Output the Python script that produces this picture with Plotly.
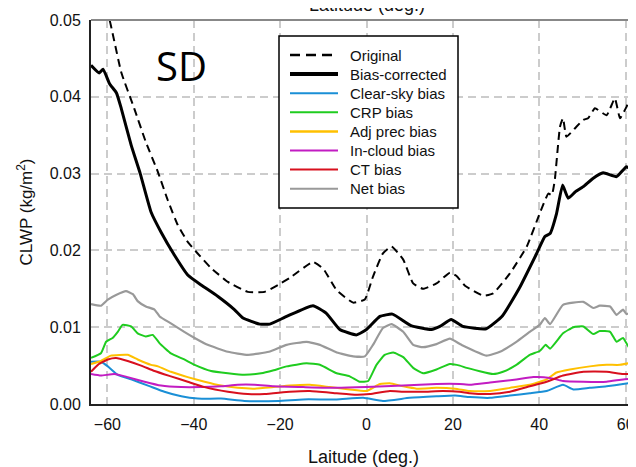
import plotly.graph_objects as go

# ---- data ----
orig_lat = [-60.5, -59.5, -56.8, -53.8, -51.1, -48.3, -46.0, -43.7, -41.4, -39.1, -36.0, -32.1, -27.5, -23.6,
            -20.5, -17.8, -12.4, -10.0, -6.9, -3.1, -0.4, 1.5, 3.8, 5.8, 8.5, 10.8, 13.1, 16.2, 19.3, 20.8,
            22.8, 27.0, 29.3, 33.2, 37.1, 40.1, 42.1, 42.9, 43.6, 44.8, 45.5, 46.3, 48.6, 50.2, 51.3, 52.9,
            55.6, 57.5, 58.7, 60.2, 62.4]
orig_val = [0.0515, 0.0500, 0.0432, 0.0385, 0.0341, 0.0302, 0.0265, 0.0233, 0.0211, 0.0196, 0.0177, 0.0159, 0.0146, 0.0146,
            0.0155, 0.0164, 0.0185, 0.0176, 0.0148, 0.0132, 0.0136, 0.0166, 0.0196, 0.0205, 0.0188, 0.0157, 0.0150, 0.0157, 0.0171, 0.0167,
            0.0154, 0.0141, 0.0144, 0.0170, 0.0205, 0.0248, 0.0274, 0.0272, 0.0292, 0.0361, 0.0372, 0.0348, 0.0361, 0.0370, 0.0372, 0.0385,
            0.0376, 0.0398, 0.0372, 0.0387, 0.0415]

corr_lat = [-63.8, -61.9, -61.0, -59.5, -57.9, -56.8, -54.5, -52.4, -49.9, -47.6, -44.5, -41.4, -38.3, -34.4, -30.6,
            -28.6, -24.7, -22.4, -18.5, -12.4, -9.3, -6.2, -2.3, 0.0, 3.1, 6.0, 10.3, 15.0, 17.0, 19.6, 22.3,
            27.7, 31.5, 35.4, 39.4, 41.3, 42.5, 44.0, 45.4, 46.7, 48.3, 50.2, 52.5, 54.8, 57.9, 60.2, 61.4, 62.4]
corr_val = [0.0441, 0.0431, 0.0436, 0.0417, 0.0405, 0.0385, 0.0337, 0.0300, 0.0250, 0.0224, 0.0194, 0.0168, 0.0155, 0.0140, 0.0123,
            0.0112, 0.0104, 0.0104, 0.0114, 0.0128, 0.0118, 0.0097, 0.0090, 0.0097, 0.0114, 0.0117, 0.0102, 0.0097, 0.0101, 0.0110, 0.0101,
            0.0098, 0.0115, 0.0151, 0.0196, 0.0218, 0.0222, 0.0248, 0.0285, 0.0268, 0.0276, 0.0283, 0.0294, 0.0301, 0.0296, 0.0309, 0.0305, 0.0307]

clear_lat = [-63.8, -61.5, -59.9, -57.6, -54.5, -50.6, -46.8, -42.9, -39.1, -33.7, -28.3, -20.5, -14.7, -6.9, -0.8,
             3.8, 10.0, 16.2, 20.5, 23.9, 28.6, 33.2, 37.8, 41.7, 45.5, 47.9, 51.7, 55.6, 59.4, 62.4]
clear_val = [0.0055, 0.0055, 0.0049, 0.0038, 0.0032, 0.0024, 0.0016, 0.0010, 0.0007, 0.0007, 0.0004, 0.0004, 0.0006, 0.0006, 0.0008,
             0.0004, 0.0008, 0.0010, 0.0011, 0.0009, 0.0008, 0.0011, 0.0014, 0.0017, 0.0025, 0.0019, 0.0021, 0.0023, 0.0026, 0.0029]

crp_lat = [-63.8, -61.5, -60.3, -58.8, -57.6, -56.5, -54.5, -53.0, -51.1, -49.5, -47.9, -45.3, -42.2, -39.8, -36.0,
           -32.1, -28.3, -24.4, -21.5, -18.5, -13.9, -10.8, -6.9, -3.9, -1.6, 0.4, 2.3, 4.2, 6.2, 8.5, 10.8,
           13.1, 16.2, 19.3, 21.6, 23.2, 29.3, 31.6, 34.7, 37.8, 40.1, 41.5, 42.5, 45.5, 47.9, 50.2, 52.5,
           54.0, 56.4, 57.9, 59.4, 61.0, 62.4]
crp_val = [0.0060, 0.0066, 0.0081, 0.0086, 0.0094, 0.0103, 0.0101, 0.0092, 0.0088, 0.0090, 0.0079, 0.0066, 0.0058, 0.0051, 0.0043,
           0.0040, 0.0038, 0.0040, 0.0044, 0.0049, 0.0053, 0.0051, 0.0040, 0.0036, 0.0029, 0.0030, 0.0051, 0.0064, 0.0067, 0.0061, 0.0047,
           0.0040, 0.0045, 0.0052, 0.0050, 0.0047, 0.0039, 0.0042, 0.0051, 0.0064, 0.0069, 0.0077, 0.0072, 0.0092, 0.0100, 0.0101, 0.0091,
           0.0095, 0.0094, 0.0081, 0.0086, 0.0072, 0.0079]

adj_lat = [-63.8, -61.5, -59.2, -55.3, -53.0, -49.9, -48.3, -45.3, -41.4, -37.5, -33.7, -29.8, -25.9, -21.5, -17.8,
           -13.1, -8.5, -3.9, 0.0, 3.1, 5.4, 8.5, 11.6, 16.2, 20.5, 23.9, 28.6, 33.2, 37.8, 41.7, 44.0,
           47.1, 51.7, 55.6, 58.7, 62.4]
adj_val = [0.0052, 0.0056, 0.0063, 0.0064, 0.0058, 0.0051, 0.0049, 0.0042, 0.0035, 0.0029, 0.0024, 0.0021, 0.0020, 0.0022, 0.0024,
           0.0025, 0.0022, 0.0019, 0.0017, 0.0026, 0.0027, 0.0023, 0.0020, 0.0021, 0.0020, 0.0017, 0.0017, 0.0021, 0.0025, 0.0032, 0.0041,
           0.0045, 0.0049, 0.0051, 0.0051, 0.0055]

incloud_lat = [-63.8, -61.5, -58.4, -55.3, -51.4, -47.6, -42.9, -38.3, -33.7, -29.8, -25.9, -21.5, -14.7, -6.9, 0.0,
               8.5, 16.2, 21.6, 23.9, 28.6, 34.7, 38.6, 42.5, 45.5, 50.2, 55.6, 59.4, 62.4]
incloud_val = [0.0039, 0.0037, 0.0039, 0.0035, 0.0029, 0.0024, 0.0022, 0.0022, 0.0023, 0.0025, 0.0025, 0.0023, 0.0022, 0.0021, 0.0022,
               0.0024, 0.0026, 0.0026, 0.0025, 0.0028, 0.0032, 0.0035, 0.0034, 0.0030, 0.0029, 0.0029, 0.0032, 0.0033]

ct_lat = [-63.8, -62.2, -59.9, -58.0, -55.3, -52.2, -49.1, -45.3, -41.4, -37.5, -32.1, -27.5, -23.6, -17.8, -13.1,
          -6.9, -2.3, 0.8, 5.4, 8.5, 13.1, 17.7, 21.6, 23.9, 28.6, 33.2, 37.8, 41.7, 45.5, 50.2, 55.6,
          59.4, 62.4]
ct_val = [0.0042, 0.0051, 0.0058, 0.0060, 0.0056, 0.0050, 0.0043, 0.0036, 0.0029, 0.0022, 0.0016, 0.0013, 0.0013, 0.0016, 0.0017,
          0.0014, 0.0012, 0.0013, 0.0017, 0.0016, 0.0016, 0.0017, 0.0016, 0.0014, 0.0013, 0.0016, 0.0023, 0.0029, 0.0037, 0.0042, 0.0042,
          0.0039, 0.0039]

net_lat = [-63.8, -61.5, -59.9, -58.0, -55.7, -54.1, -53.0, -51.1, -49.1, -47.9, -45.3, -42.2, -39.8, -36.8, -32.1,
           -27.5, -22.6, -18.5, -13.9, -10.8, -6.9, -3.1, -0.4, 1.5, 3.8, 5.8, 8.5, 10.8, 13.1, 16.2, 19.3,
           22.0, 27.8, 30.9, 34.7, 37.8, 40.1, 41.3, 42.5, 45.5, 50.2, 52.5, 54.0, 56.4, 57.9, 59.4, 60.2, 62.4]
net_val = [0.0130, 0.0128, 0.0136, 0.0142, 0.0147, 0.0143, 0.0134, 0.0127, 0.0123, 0.0114, 0.0105, 0.0094, 0.0086, 0.0077, 0.0068,
           0.0064, 0.0068, 0.0077, 0.0081, 0.0077, 0.0067, 0.0062, 0.0062, 0.0077, 0.0099, 0.0104, 0.0094, 0.0077, 0.0074, 0.0078, 0.0085,
           0.0077, 0.0063, 0.0068, 0.0081, 0.0094, 0.0103, 0.0112, 0.0104, 0.0129, 0.0133, 0.0125, 0.0128, 0.0127, 0.0116, 0.0123, 0.0117, 0.0123]

x_ticks = [-60, -40, -20, 0, 20, 40, 60]
y_ticks = [0.00, 0.01, 0.02, 0.03, 0.04, 0.05]
y_tick_labels = ["0.00", "0.01", "0.02", "0.03", "0.04", "0.05"]

series_names = ["Original", "Bias-corrected", "Clear-sky bias", "CRP bias",
                "Adj prec bias", "In-cloud bias", "CT bias", "Net bias"]
series_lat = [orig_lat, corr_lat, clear_lat, crp_lat, adj_lat, incloud_lat, ct_lat, net_lat]
series_val = [orig_val, corr_val, clear_val, crp_val, adj_val, incloud_val, ct_val, net_val]

# styles
colors = ["black", "black", "#1a8fd6", "#1fcc1f", "#ffc000", "#c21cc2", "#d8101e", "#999999"]
widths = [2, 3, 2, 2, 2, 2, 2, 2.2]
dashes = ["8px,5px", "solid", "solid", "solid", "solid", "solid", "solid", "solid"]

# geometry: the page body adds an 8px offset, so figure coords = screen coords - 8
OFF = 8
W, H = 636, 467
ML, MR, MT = 91 - OFF, 8, 20 - OFF
MB = H - (404 - OFF)
PW, PH = W - ML - MR, H - MT - MB


def px_x(p):
    return (p - OFF - ML) / PW


def px_y(p):
    return (H - MB - (p - OFF)) / PH


fig = go.Figure()
for name, xs, ys, col, w, dash in zip(series_names, series_lat, series_val, colors, widths, dashes):
    fig.add_trace(go.Scatter(x=xs, y=ys, mode="lines", name=name, showlegend=False,
                             line=dict(color=col, width=w, dash=dash, shape="spline", smoothing=0.4)))

font_main = "Liberation Sans, Arial, sans-serif"
fig.update_layout(
    width=W, height=H,
    margin=dict(l=ML, r=MR, t=MT, b=MB),
    paper_bgcolor="white", plot_bgcolor="white",
    font=dict(family=font_main, size=16, color="#111"),
    showlegend=False,
    xaxis=dict(range=[-63.8, 62.4], tickvals=x_ticks, ticks="", showgrid=True,
               gridcolor="#cccccc", gridwidth=1.5, griddash="8px,5px",
               showline=True, linecolor="#222", linewidth=2, zeroline=False,
               automargin=False, ticklabelstandoff=5,
               title=dict(text="Laitude (deg.)", font=dict(size=18), standoff=18),
               tickfont=dict(size=16)),
    yaxis=dict(range=[0, 0.05], tickvals=y_ticks, ticktext=y_tick_labels, ticks="",
               showgrid=True, gridcolor="#cccccc", gridwidth=1.5, griddash="8px,5px",
               showline=True, linecolor="#222", linewidth=2, zeroline=False,
               automargin=False, ticklabelstandoff=5,
               title=dict(text="CLWP (kg/m<sup>2</sup>)", font=dict(size=17), standoff=13),
               tickfont=dict(size=16)),
)
# top frame line
fig.add_shape(type="line", xref="paper", yref="paper", x0=0, x1=1, y0=1, y1=1,
              line=dict(color="#888888", width=2))

# legend drawn as a box with samples and text
leg_x0, leg_x1, leg_y0, leg_y1 = 279, 458, 36, 208
fig.add_shape(type="rect", xref="paper", yref="paper",
              x0=px_x(leg_x0), x1=px_x(leg_x1), y0=px_y(leg_y1), y1=px_y(leg_y0),
              line=dict(color="black", width=1.5), fillcolor="white", layer="above")
leg_widths = [2.5, 4, 2, 2, 2.5, 2, 2, 2]
leg_dashes = ["10px,6px", "solid", "solid", "solid", "solid", "solid", "solid", "solid"]
for i, name in enumerate(series_names):
    yy = px_y(55 + i * 19.1)
    fig.add_shape(type="line", xref="paper", yref="paper", x0=px_x(290), x1=px_x(338), y0=yy, y1=yy,
                  line=dict(color=colors[i], width=leg_widths[i], dash=leg_dashes[i]), layer="above")
    fig.add_annotation(text=name, xref="paper", yref="paper", x=px_x(348), y=yy,
                       xanchor="left", yanchor="middle", showarrow=False,
                       font=dict(family=font_main, size=15, color="#111"))

fig.add_annotation(text="SD", xref="paper", yref="paper", x=px_x(181), y=px_y(65),
                   xanchor="center", yanchor="middle", showarrow=False,
                   font=dict(family="Open Sans, sans-serif", size=40, color="black"))
# top title, mostly cut off by the top edge as in the reference
fig.add_annotation(text="Latitude (deg.)", xref="paper", yref="paper", x=px_x(367), y=px_y(17),
                   xanchor="center", yanchor="bottom", showarrow=False,
                   font=dict(family=font_main, size=18, color="#111"))

fig.write_html("out.html")
